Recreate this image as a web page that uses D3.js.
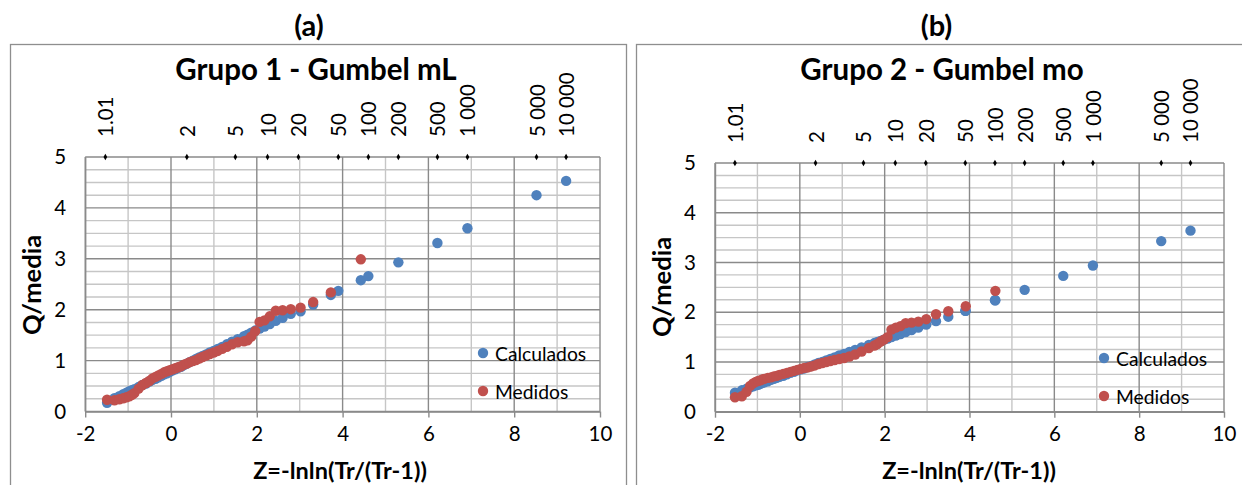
<!DOCTYPE html>
<html>
<head>
<meta charset="utf-8">
<script src="https://cdn.jsdelivr.net/npm/d3@7"></script>
<style>
  html, body { margin: 0; padding: 0; background: #ffffff; }
  svg { display: block; }
  text { font-family: Lato, "Noto Sans", sans-serif; fill: #000; }
</style>
</head>
<body>
<svg id="chart" width="1242" height="485"></svg>
<script>
// ---------- DATA ----------
const returnPeriodLabels = ["1.01", "2", "5", "10", "20", "50", "100", "200", "500", "1 000", "5 000", "10 000"];
const returnPeriodZ = [-1.53, 0.37, 1.50, 2.25, 2.97, 3.90, 4.60, 5.30, 6.21, 6.91, 8.52, 9.21];

const xTicks = [-2, 0, 2, 4, 6, 8, 10];
const yTicks = [0, 1, 2, 3, 4, 5];
const seriesNames = ["Calculados", "Medidos"];

// Chart (a): Grupo 1 - Gumbel mL
const zCalcA = [-1.49, -1.318, -1.204, -1.113, -1.037, -0.970, -0.910, -0.855, -0.755, -0.666,
  -0.583, -0.506, -0.432, -0.361, -0.293, -0.225, -0.159, -0.094, -0.029, 0.036,
  0.100, 0.166, 0.232, 0.299, 0.367, 0.436, 0.507, 0.581, 0.656, 0.735,
  0.817, 0.903, 0.993, 1.089, 1.192, 1.302, 1.422, 1.554, 1.702, 1.783,
  1.870, 1.963, 2.065, 2.178, 2.302, 2.442, 2.602, 2.792, 3.020, 3.314,
  3.726, 3.90, 4.425, 4.60, 5.30, 6.21, 6.91, 8.52, 9.21];
const qCalcA = [0.17, 0.26, 0.30, 0.34, 0.37, 0.40, 0.42, 0.44, 0.48, 0.52,
  0.55, 0.59, 0.62, 0.64, 0.67, 0.70, 0.73, 0.75, 0.78, 0.81,
  0.83, 0.86, 0.88, 0.91, 0.94, 0.97, 1.00, 1.03, 1.06, 1.09,
  1.12, 1.16, 1.19, 1.23, 1.27, 1.32, 1.37, 1.42, 1.48, 1.51,
  1.55, 1.59, 1.63, 1.67, 1.72, 1.78, 1.84, 1.92, 1.97, 2.10,
  2.29, 2.37, 2.58, 2.66, 2.93, 3.31, 3.60, 4.25, 4.53];
const zMedA = [-1.49, -1.318, -1.204, -1.113, -1.037, -0.970, -0.910, -0.855, -0.755, -0.666,
  -0.583, -0.506, -0.432, -0.361, -0.293, -0.225, -0.159, -0.094, -0.029, 0.036,
  0.100, 0.166, 0.232, 0.299, 0.367, 0.436, 0.507, 0.581, 0.656, 0.735,
  0.817, 0.903, 0.993, 1.089, 1.192, 1.302, 1.422, 1.554, 1.702, 1.783,
  1.870, 1.963, 2.065, 2.178, 2.302, 2.442, 2.602, 2.792, 3.020, 3.314,
  3.726, 4.425];
const qMedA = [0.23, 0.22, 0.24, 0.26, 0.28, 0.30, 0.33, 0.36, 0.45, 0.52,
  0.56, 0.60, 0.65, 0.68, 0.71, 0.74, 0.77, 0.79, 0.81, 0.83,
  0.85, 0.87, 0.89, 0.92, 0.94, 0.97, 0.99, 1.01, 1.04, 1.07,
  1.10, 1.13, 1.16, 1.19, 1.23, 1.27, 1.32, 1.36, 1.38, 1.40,
  1.47, 1.58, 1.76, 1.79, 1.87, 1.98, 1.99, 2.01, 2.04, 2.15,
  2.34, 2.99];

// Chart (b): Grupo 2 - Gumbel mo
const zCalcB = [-1.529, -1.367, -1.258, -1.172, -1.101, -1.038, -0.982, -0.931, -0.883, -0.839,
  -0.756, -0.681, -0.611, -0.545, -0.482, -0.392, -0.305, -0.222, -0.139, -0.058,
  0.023, 0.104, 0.185, 0.268, 0.352, 0.439, 0.528, 0.621, 0.718, 0.819,
  0.927, 1.043, 1.168, 1.304, 1.456, 1.628, 1.758, 1.828, 1.903, 1.982,
  2.068, 2.160, 2.262, 2.372, 2.495, 2.633, 2.793, 2.980, 3.210, 3.500,
  3.900, 3.912, 4.600, 4.610, 5.30, 6.21, 6.91, 8.52, 9.21];
const qCalcB = [0.38, 0.43, 0.46, 0.49, 0.51, 0.53, 0.54, 0.56, 0.58, 0.59,
  0.61, 0.64, 0.66, 0.68, 0.70, 0.72, 0.75, 0.78, 0.80, 0.83,
  0.85, 0.87, 0.90, 0.92, 0.95, 0.98, 1.00, 1.03, 1.06, 1.09,
  1.13, 1.16, 1.20, 1.24, 1.29, 1.34, 1.38, 1.40, 1.42, 1.45,
  1.47, 1.50, 1.53, 1.56, 1.60, 1.64, 1.69, 1.75, 1.82, 1.91,
  2.03, 2.03, 2.24, 2.24, 2.45, 2.73, 2.94, 3.43, 3.64];
const zMedB = [-1.529, -1.367, -1.258, -1.172, -1.101, -1.038, -0.982, -0.931, -0.883, -0.839,
  -0.756, -0.681, -0.611, -0.545, -0.482, -0.392, -0.305, -0.222, -0.139, -0.058,
  0.023, 0.104, 0.185, 0.268, 0.352, 0.439, 0.528, 0.621, 0.718, 0.819,
  0.927, 1.043, 1.168, 1.304, 1.456, 1.628, 1.758, 1.828, 1.903, 1.982,
  2.068, 2.160, 2.262, 2.372, 2.495, 2.633, 2.793, 2.980, 3.210, 3.500,
  3.912, 4.610];
const qMedB = [0.29, 0.31, 0.40, 0.52, 0.57, 0.60, 0.62, 0.63, 0.65, 0.66,
  0.68, 0.69, 0.71, 0.72, 0.74, 0.76, 0.78, 0.80, 0.82, 0.84,
  0.86, 0.88, 0.89, 0.91, 0.93, 0.96, 0.98, 1.00, 1.02, 1.04,
  1.06, 1.08, 1.11, 1.15, 1.21, 1.28, 1.33, 1.36, 1.41, 1.45,
  1.50, 1.65, 1.69, 1.72, 1.78, 1.79, 1.81, 1.86, 1.96, 2.02,
  2.12, 2.43];

// ---------- DRAWING ----------
const svg = d3.select("#chart");
const COLORS = { calc: "#4F81BD", med: "#C0504D" };
const TXT = "20.5px";

function zip(xs, ys) { return xs.map((x, i) => ({ x: x, y: ys[i] })); }

function drawPanel(cfg) {
  const g = svg.append("g");

  // outer frame
  g.append("rect")
    .attr("x", cfg.frame[0] + 0.5).attr("y", cfg.frame[1] + 0.5)
    .attr("width", cfg.frame[2]).attr("height", cfg.frame[3])
    .attr("fill", "#fff").attr("stroke", "#8e8e8e").attr("stroke-width", 1.3);

  // panel letter
  g.append("text").attr("x", cfg.letterX).attr("y", 36)
    .attr("text-anchor", "middle").style("font-weight", 700).style("font-size", "29px")
    .text(cfg.letter);

  // title
  g.append("text").attr("x", cfg.titleX).attr("y", 80)
    .attr("text-anchor", "middle").style("font-weight", 700).style("font-size", "29.5px")
    .text(cfg.title);

  const x = d3.scaleLinear().domain([-2, 10]).range([cfg.left, cfg.right]);
  const y = d3.scaleLinear().domain([0, 5]).range([cfg.bottom, cfg.top]);

  // minor gridlines
  const minorX = d3.range(-1, 10, 2);
  const minorY = d3.range(0, 5.001, 0.25).filter(v => Math.abs(v - Math.round(v)) > 1e-6);
  const grid = g.append("g");
  grid.selectAll(".mx").data(minorX).enter().append("line")
    .attr("x1", d => x(d)).attr("x2", d => x(d)).attr("y1", y(0)).attr("y2", y(5))
    .attr("stroke", "#c6c6c6").attr("stroke-width", 1.4);
  grid.selectAll(".my").data(minorY).enter().append("line")
    .attr("x1", x(-2)).attr("x2", x(10)).attr("y1", d => y(d)).attr("y2", d => y(d))
    .attr("stroke", "#c6c6c6").attr("stroke-width", 1.4);
  // major gridlines
  grid.selectAll(".Mx").data(xTicks).enter().append("line")
    .attr("x1", d => x(d)).attr("x2", d => x(d)).attr("y1", y(0)).attr("y2", y(5))
    .attr("stroke", "#8a8a8a").attr("stroke-width", 1.4);
  grid.selectAll(".My").data(yTicks).enter().append("line")
    .attr("x1", x(-2)).attr("x2", x(10)).attr("y1", d => y(d)).attr("y2", d => y(d))
    .attr("stroke", "#8a8a8a").attr("stroke-width", 1.4);

  // x axis (bottom) with tick marks
  const xAxis = d3.axisBottom(x).tickValues(xTicks).tickSize(6).tickSizeOuter(0).tickPadding(9)
    .tickFormat(d3.format("d"));
  const xa = g.append("g").attr("transform", `translate(0,${cfg.bottom})`).call(xAxis);
  xa.select(".domain").attr("stroke", "#8a8a8a").attr("stroke-width", 1.4);
  xa.selectAll(".tick line").attr("stroke", "#8a8a8a").attr("stroke-width", 1.4);
  xa.selectAll(".tick text").style("font-size", TXT).style("font-family", "Lato").attr("fill", "#000")
    .text(d => d < 0 ? "-" + Math.abs(d) : d);

  // y axis (left)
  const yAxis = d3.axisLeft(y).tickValues(yTicks).tickSize(0).tickPadding(19).tickFormat(d3.format("d"));
  const ya = g.append("g").attr("transform", `translate(${cfg.left},0)`).call(yAxis);
  ya.select(".domain").attr("stroke", "#8a8a8a").attr("stroke-width", 1.4);
  ya.selectAll(".tick text").style("font-size", TXT).style("font-family", "Lato").attr("fill", "#000");

  // return-period markers along top
  const rp = zip(returnPeriodZ, returnPeriodLabels.map(() => 5));
  g.selectAll(".rpm").data(rp).enter().append("path")
    .attr("d", d3.symbol().type(d3.symbolDiamond).size(12))
    .attr("transform", d => `translate(${x(d.x)},${y(d.y)})`)
    .attr("fill", "#000");
  g.selectAll(".rpl").data(returnPeriodLabels).enter().append("text")
    .attr("transform", (d, i) => `translate(${x(returnPeriodZ[i])},${cfg.rpBase}) rotate(-90)`)
    .attr("dominant-baseline", "central")
    .style("font-size", TXT)
    .text(d => d);

  // series
  g.append("g").selectAll("circle").data(zip(cfg.zc, cfg.qc)).enter().append("circle")
    .attr("cx", d => x(d.x)).attr("cy", d => y(d.y)).attr("r", 5.2).attr("fill", COLORS.calc);
  g.append("g").selectAll("circle").data(zip(cfg.zm, cfg.qm)).enter().append("circle")
    .attr("cx", d => x(d.x)).attr("cy", d => y(d.y)).attr("r", 5.2).attr("fill", COLORS.med);

  // axis titles
  g.append("text").attr("x", cfg.xTitleX).attr("y", 479).attr("text-anchor", "middle")
    .style("font-weight", 700).style("font-size", "23.5px").text("Z=-lnln(Tr/(Tr-1))");
  g.append("text").attr("transform", `translate(${cfg.yTitleX},${cfg.yTitleY}) rotate(-90)`)
    .attr("text-anchor", "middle").attr("dominant-baseline", "central")
    .style("font-weight", 700).style("font-size", "25.5px").text("Q/media");

  // legend
  const leg = g.append("g");
  [COLORS.calc, COLORS.med].forEach((c, i) => {
    const ly = cfg.legY[i];
    leg.append("circle").attr("cx", cfg.legX).attr("cy", ly).attr("r", 5.2).attr("fill", c);
    leg.append("text").attr("x", cfg.legX + 12).attr("y", ly).attr("dominant-baseline", "central")
      .style("font-size", "19.3px").text(seriesNames[i]);
  });
}

drawPanel({
  frame: [10, 44, 616, 460], letter: "(a)", letterX: 309, title: "Grupo 1 - Gumbel mL", titleX: 316,
  left: 85.2, right: 600, top: 157, bottom: 411.5, rpBase: 137,
  zc: zCalcA, qc: qCalcA, zm: zMedA, qm: qMedA,
  xTitleX: 340, yTitleX: 31, yTitleY: 285, legX: 483, legY: [353, 391]
});
drawPanel({
  frame: [636, 44, 640, 460], letter: "(b)", letterX: 936.5, title: "Grupo 2 - Gumbel mo", titleX: 942,
  left: 715, right: 1224, top: 163, bottom: 411.7, rpBase: 143,
  zc: zCalcB, qc: qCalcB, zm: zMedB, qm: qMedB,
  xTitleX: 969, yTitleX: 661, yTitleY: 287, legX: 1104, legY: [358, 396]
});
</script>
</body>
</html>
